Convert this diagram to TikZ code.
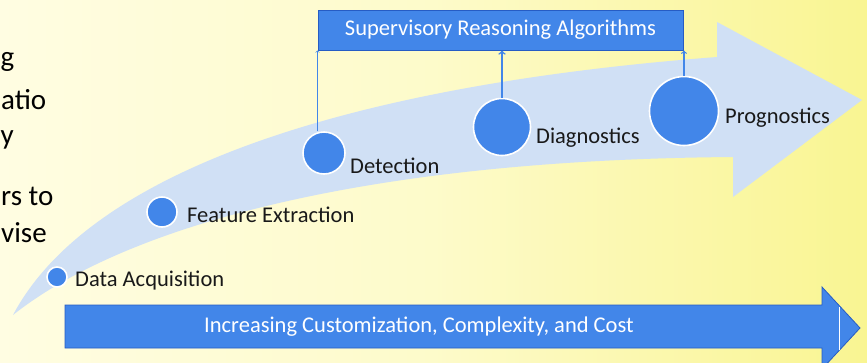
\documentclass[tikz,border=0pt]{standalone}
\usepackage{fontspec}
\setmainfont{Carlito}
\usepackage{tikz}
\usetikzlibrary{arrows}

\definecolor{paper}{RGB}{255,253,226}
\definecolor{paperyel}{RGB}{249,245,146}
\definecolor{pale}{RGB}{208,224,245}
\definecolor{midblue}{RGB}{66,134,233}
\definecolor{darkblue}{RGB}{38,92,196}

\tikzset{
  stage/.style={circle,fill=midblue,draw=white,line width=1.6pt,inner sep=0pt},
  lbl/.style={anchor=west,font=\fontsize{22.5}{24}\selectfont,text=black!90,inner sep=0pt},
  frag/.style={anchor=west,font=\fontsize{29}{31}\selectfont,inner sep=0pt},
  up/.style={->,>=to,draw=midblue}
}

\begin{document}
\begin{tikzpicture}[x=1pt,y=-1pt]
\useasboundingbox (0,0) rectangle (867,362);
\clip (0,0) rectangle (867,362);
\shade[left color=paper,right color=paperyel,middle color=paper!70!paperyel] (0,0) rectangle (867,362);

% big curved arrow
\fill[pale] (13,315) .. controls (90,170) and (350,85) .. (717,57)
  -- (717,22) -- (862,100) -- (733,197) -- (733,157)
  .. controls (350,160) and (120,230) .. (13,315) -- cycle;

% words at the left edge
\node[frag] (w1) at (0.5,62) {g};
\node[frag] (w2) at (1,100) {atio};
\node[frag] (w3) at (0.5,140) {y};
\node[frag] (w4) at (1,196) {rs to};
\node[frag] (w5) at (1,233) {vise};

% stages
\node[stage,minimum size=20pt] (daq) at (57,277) {};
\node[stage,minimum size=30pt] (fex) at (162,212) {};
\node[stage,minimum size=42pt] (det) at (324,153) {};
\node[stage,minimum size=57pt] (dia) at (502,127) {};
\node[stage,minimum size=69pt] (pro) at (684,111) {};

\node[lbl] (daql) at (75,281) {Data Acquisition};
\node[lbl] (fexl) at (187,215) {Feature Extraction};
\node[lbl] (detl) at (350,166) {Detection};
\node[lbl] (dial) at (536,138) {Diagnostics};
\node[lbl] (prol) at (725,118) {Prognostics};

% supervisory box
\node[draw=darkblue,fill=midblue,line width=1pt,minimum width=365pt,minimum height=40pt,
  text=white,font=\fontsize{22.5}{24}\selectfont] (sra) at (500.5,30) {Supervisory Reasoning Algorithms};

\draw[up,line width=0.6pt] (det.north -| sra.south west) -- (sra.south west);
\draw[up,line width=1.6pt] (dia.north) -- (dia.north |- sra.south);
\draw[up,line width=1.2pt] (pro.north) -- (pro.north |- sra.south);

% bottom arrow
\draw[fill=midblue,draw=darkblue,line width=0.8pt] (65,305) -- (822,305) -- (822,287) -- (860,328)
  -- (822,369) -- (822,348) -- (65,348) -- cycle;
\draw[white,line width=0.8pt] (839,307) -- (839,350);
\node[text=white,font=\fontsize{22.5}{24}\selectfont] (cost) at (419,327) {Increasing Customization, Complexity, and Cost};
\end{tikzpicture}
\end{document}
